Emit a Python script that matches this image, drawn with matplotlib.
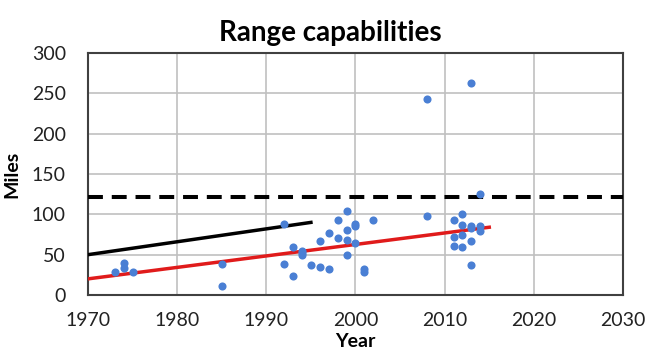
import matplotlib.pyplot as plt

# Scatter data (year, miles)
years = [1973, 1974, 1974, 1975, 1985, 1985, 1992, 1992, 1993, 1993,
         1994, 1994, 1994, 1995, 1996, 1996, 1997, 1997, 1998, 1998,
         1999, 1999, 1999, 1999, 2000, 2000, 2000, 2001, 2001, 2002,
         2008, 2008, 2011, 2011, 2011, 2012, 2012, 2012, 2012,
         2013, 2013, 2013, 2013, 2013, 2014, 2014, 2014]
miles = [29, 40, 34, 28, 39, 11, 88, 39, 59, 24,
         55, 52, 49, 37, 67, 35, 77, 32, 93, 71,
         104, 80, 68, 49, 88, 86, 64, 32, 28, 93,
         243, 98, 93, 72, 61, 101, 87, 75, 60,
         263, 86, 83, 67, 37, 125, 86, 79]

# Trend lines
red_x = [1970, 2015]
red_y = [20, 84]
black_x = [1970, 1995]
black_y = [50, 90]
dash_x = [1970, 2030]
dash_y = [122, 122]

plt.rcParams['font.family'] = ['Lato', 'DejaVu Sans']

fig = plt.figure(figsize=(6.6, 3.59), dpi=100)
ax = fig.add_axes([88 / 660, 1 - 295 / 359, 535 / 660, 242 / 359])

ax.plot(dash_x, dash_y, color='black', lw=2.9, dashes=(3.7, 2.2), zorder=3)
ax.plot(black_x, black_y, color='black', lw=2.5, zorder=3)
ax.plot(red_x, red_y, color='#e01b1b', lw=2.5, zorder=3)
ax.scatter(years, miles, s=34, color='#4a7fd4', zorder=4, linewidths=0)

ax.set_xlim(1970, 2030)
ax.set_ylim(0, 300)
ax.set_xticks(range(1970, 2031, 10))
ax.set_yticks(range(0, 301, 50))
ax.grid(True, color='#c0c0c0', lw=1.2)
ax.set_axisbelow(True)
for s in ax.spines.values():
    s.set_color('#404040')
    s.set_linewidth(1.5)
ax.tick_params(length=0, labelsize=14, colors='#222222')
ax.tick_params(axis='x', pad=12)
ax.tick_params(axis='y', pad=16)

ax.set_xlabel('Year', fontsize=14, fontweight='bold', labelpad=3)
ax.set_ylabel('Miles', fontsize=14, fontweight='bold', labelpad=8)
fig.text(0.5, 1 - 33 / 359, 'Range capabilities', ha='center', va='center',
         fontsize=20, fontweight='bold')

plt.savefig('out.png', dpi=100)
